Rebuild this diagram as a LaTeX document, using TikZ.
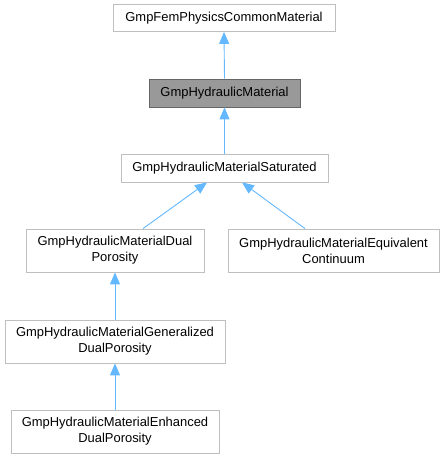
\documentclass[tikz,border=0pt]{standalone}
\usepackage{fontspec}
\setmainfont{Liberation Sans}
\usetikzlibrary{arrows.meta}
\definecolor{edgeblue}{HTML}{63B8FF}
\definecolor{boxline}{HTML}{BFBFBF}
\definecolor{curfill}{HTML}{999999}
\definecolor{curline}{HTML}{666666}
\tikzset{
  cls/.style={draw=boxline, line width=0.8bp, fill=white, inner sep=0pt, align=center,
    font=\fontsize{13}{16}\selectfont, text=black},
  cur/.style={cls, draw=curline, fill=curfill},
  inh/.style={draw=edgeblue, line width=0.9bp, -{Triangle[length=12bp,width=10bp,fill=edgeblue]}}
}
\begin{document}
\begin{tikzpicture}[x=1bp,y=-1bp]
\useasboundingbox (0,0) rectangle (445,459);
\node[cls, minimum width=222bp, minimum height=27bp] (b1) at (224,18) {GmpFemPhysicsCommonMaterial};
\node[cur, minimum width=151bp, minimum height=28bp] (b2) at (224.5,93) {GmpHydraulicMaterial};
\node[cls, minimum width=207bp, minimum height=28bp] (b3) at (224.5,168) {GmpHydraulicMaterialSaturated};
\node[cls, minimum width=178bp, minimum height=43bp] (b4) at (115,250.5) {GmpHydraulicMaterialDual\\Porosity};
\node[cls, minimum width=211bp, minimum height=43bp] (b5) at (333.5,250.5) {GmpHydraulicMaterialEquivalent\\Continuum};
\node[cls, minimum width=220bp, minimum height=43bp] (b6) at (115,341.5) {GmpHydraulicMaterialGeneralized\\DualPorosity};
\node[cls, minimum width=208bp, minimum height=43bp] (b7) at (115,431.5) {GmpHydraulicMaterialEnhanced\\DualPorosity};
\draw[inh] (b2.north) -- (b1.south);
\draw[inh] (b3.north) -- (b2.south);
\draw[inh] ([xshift=28bp]b4.north) -- ([xshift=-17.5bp]b3.south);
\draw[inh] ([xshift=-28.5bp]b5.north) -- ([xshift=17.5bp]b3.south);
\draw[inh] (b6.north) -- (b4.south);
\draw[inh] (b7.north) -- (b6.south);
\end{tikzpicture}
\end{document}
